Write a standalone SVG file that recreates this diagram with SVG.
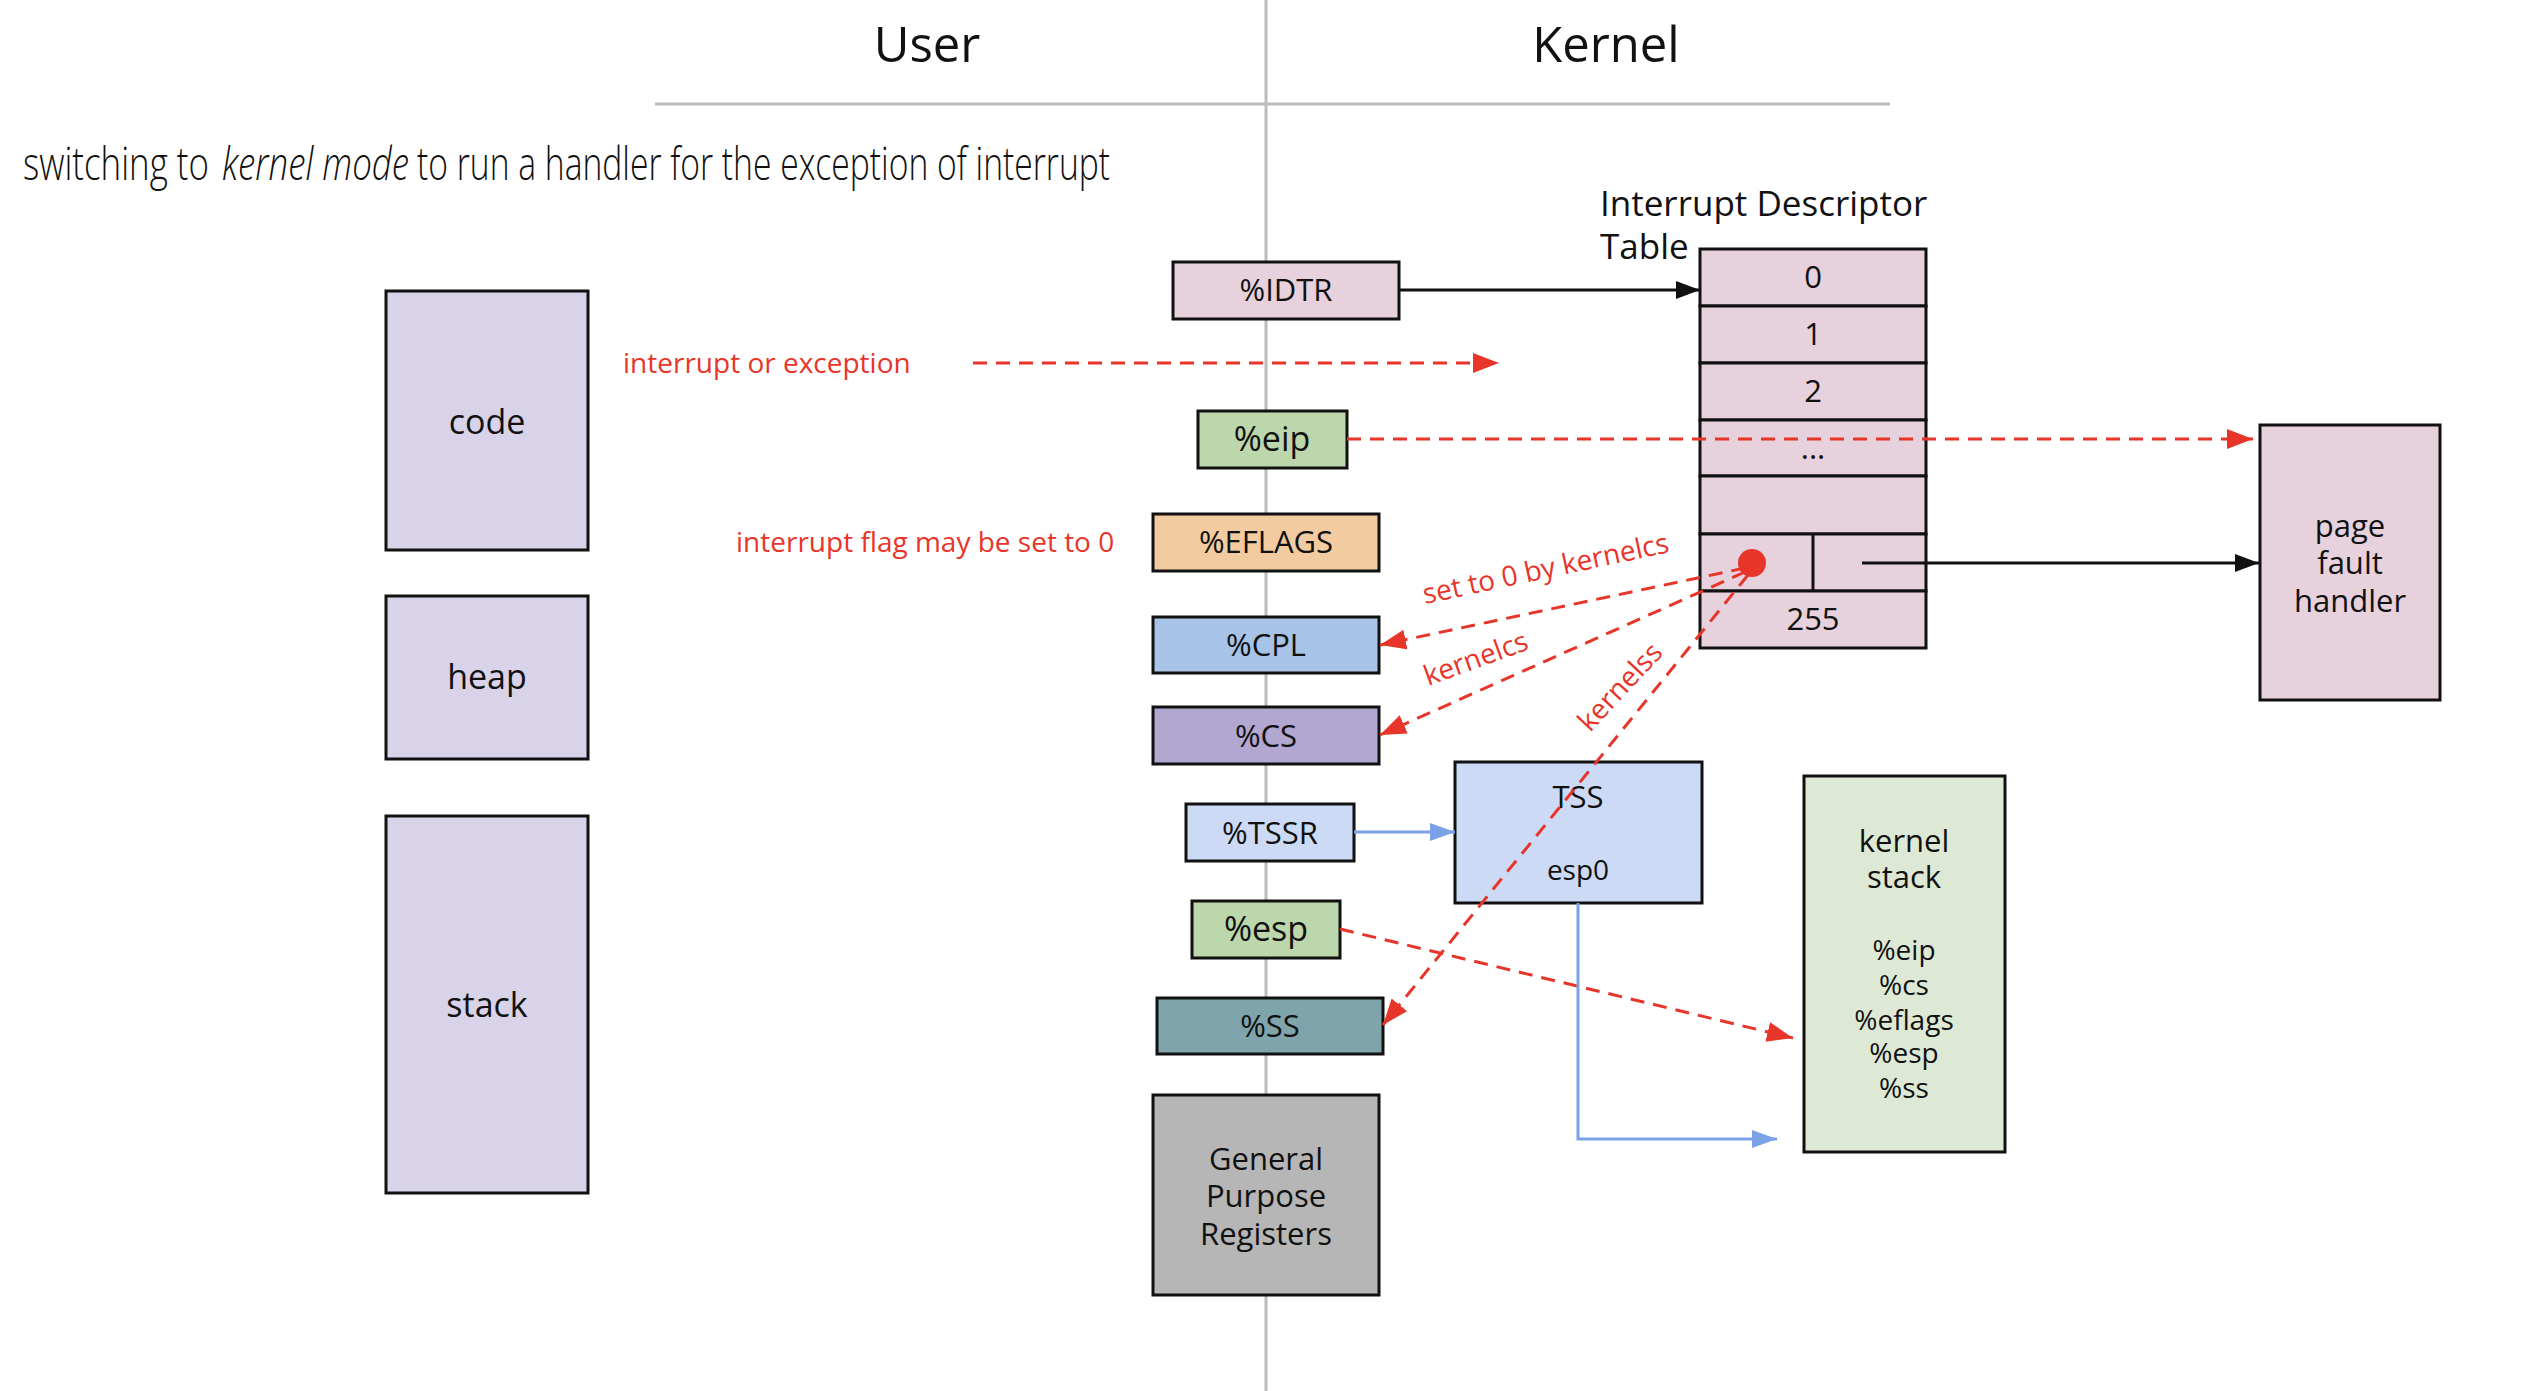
<svg xmlns="http://www.w3.org/2000/svg" width="2535" height="1391" viewBox="0 0 2535 1391">
<defs>
<style>
text{font-family:"Open Sans","Noto Sans","Liberation Sans",sans-serif;fill:#111;}
.box{stroke:#111;stroke-width:3;}
.lbl{font-size:31px;text-anchor:middle;}
.big{font-size:34px;text-anchor:middle;}
.sm{font-size:28px;text-anchor:middle;}
.red{fill:#e8352a;font-size:28px;}
.ttl{font-size:46px;font-weight:300;}
.guide{stroke:#bbbbbb;stroke-width:3;fill:none;}
.blk{stroke:#111;stroke-width:3;fill:none;}
.rd{stroke:#e8352a;stroke-width:3;fill:none;stroke-dasharray:14 9;}
.bl{stroke:#7ba2e6;stroke-width:3;fill:none;}
.lav{fill:#d8d3e8;}
.pink{fill:#e6d1dd;}
.grn{fill:#bcd7ab;}
</style>
<marker id="ab" markerUnits="userSpaceOnUse" markerWidth="24" markerHeight="18" refX="24" refY="9" orient="auto"><path d="M0,0 L24,9 L0,18 z" fill="#111"/></marker>
<marker id="ar" markerUnits="userSpaceOnUse" markerWidth="26" markerHeight="20" refX="26" refY="10" orient="auto"><path d="M0,0 L26,10 L0,20 z" fill="#e8352a"/></marker>
<marker id="abl" markerUnits="userSpaceOnUse" markerWidth="25" markerHeight="18" refX="25" refY="9" orient="auto"><path d="M0,0 L25,9 L0,18 z" fill="#7ba2e6"/></marker>
</defs>
<rect width="2535" height="1391" fill="#ffffff"/>

<g id="guides">
<line class="guide" x1="1266" y1="0" x2="1266" y2="1391"/>
<line class="guide" x1="655" y1="104" x2="1890" y2="104"/>
</g>

<g id="headers">
<text x="927" y="62" font-size="49" text-anchor="middle">User</text>
<text x="1606" y="62" font-size="49" text-anchor="middle">Kernel</text>
<text class="ttl" x="23" y="180" textLength="186" lengthAdjust="spacingAndGlyphs">switching to</text>
<text class="ttl" x="222" y="180" font-style="italic" textLength="187" lengthAdjust="spacingAndGlyphs">kernel mode</text>
<text class="ttl" x="417" y="180" textLength="693" lengthAdjust="spacingAndGlyphs">to run a handler for the exception of interrupt</text>
</g>

<g id="code"><rect class="box lav" x="386" y="291" width="202" height="259"/><text class="big" x="487" y="434">code</text></g>
<g id="heap"><rect class="box lav" x="386" y="596" width="202" height="163"/><text class="big" x="487" y="689">heap</text></g>
<g id="stack"><rect class="box lav" x="386" y="816" width="202" height="377"/><text class="big" x="487" y="1017">stack</text></g>

<g id="idtr"><rect class="box pink" x="1173" y="262" width="226" height="57"/><text class="lbl" x="1286" y="301">%IDTR</text></g>
<g id="eip"><rect class="box grn" x="1198" y="411" width="149" height="57"/><text class="big" x="1272" y="451">%eip</text></g>
<g id="eflags"><rect class="box" fill="#f3cba0" x="1153" y="514" width="226" height="57"/><text class="lbl" x="1266" y="553">%EFLAGS</text></g>
<g id="cpl"><rect class="box" fill="#a7c3e7" x="1153" y="617" width="226" height="56"/><text class="lbl" x="1266" y="656">%CPL</text></g>
<g id="cs"><rect class="box" fill="#b1a7d1" x="1153" y="707" width="226" height="57"/><text class="lbl" x="1266" y="747">%CS</text></g>
<g id="tssr"><rect class="box" fill="#ccdaf5" x="1186" y="804" width="168" height="57"/><text class="lbl" x="1270" y="844">%TSSR</text></g>
<g id="esp"><rect class="box grn" x="1192" y="901" width="148" height="57"/><text class="big" x="1266" y="941">%esp</text></g>
<g id="ss"><rect class="box" fill="#7fa4ac" x="1157" y="998" width="226" height="56"/><text class="lbl" x="1270" y="1037">%SS</text></g>
<g id="gpr"><rect class="box" fill="#b6b6b6" x="1153" y="1095" width="226" height="200"/>
<text class="lbl" x="1266" y="1170">General</text><text class="lbl" x="1266" y="1207">Purpose</text><text class="lbl" x="1266" y="1245">Registers</text></g>

<g id="idt">
<text x="1600" y="216" font-size="35">Interrupt Descriptor</text>
<text x="1600" y="259" font-size="35">Table</text>
<rect class="box pink" x="1700" y="249" width="226" height="57"/><text class="lbl" x="1813" y="288">0</text>
<rect class="box pink" x="1700" y="306" width="226" height="57"/><text class="lbl" x="1813" y="345">1</text>
<rect class="box pink" x="1700" y="363" width="226" height="57"/><text class="lbl" x="1813" y="402">2</text>
<rect class="box pink" x="1700" y="420" width="226" height="56"/><text class="lbl" x="1813" y="459">...</text>
<rect class="box pink" x="1700" y="476" width="226" height="58"/>
<rect class="box pink" x="1700" y="534" width="226" height="57"/>
<line class="blk" x1="1813" y1="534" x2="1813" y2="591"/>
<rect class="box pink" x="1700" y="591" width="226" height="57"/><text class="lbl" x="1813" y="630">255</text>
</g>

<g id="pagefault"><rect class="box pink" x="2260" y="425" width="180" height="275"/>
<text class="lbl" x="2350" y="537">page</text><text class="lbl" x="2350" y="574">fault</text><text class="lbl" x="2350" y="612">handler</text></g>

<g id="tss"><rect class="box" fill="#ccdaf5" x="1455" y="762" width="247" height="141"/>
<text class="lbl" x="1578" y="808">TSS</text><text class="sm" x="1578" y="880">esp0</text></g>

<g id="kstack"><rect class="box" fill="#dee9d5" x="1804" y="776" width="201" height="376"/>
<text class="lbl" x="1904" y="852">kernel</text><text class="lbl" x="1904" y="888">stack</text>
<text class="sm" x="1904" y="960">%eip</text><text class="sm" x="1904" y="995">%cs</text><text class="sm" x="1904" y="1030">%eflags</text><text class="sm" x="1904" y="1063">%esp</text><text class="sm" x="1904" y="1098">%ss</text></g>

<g id="connectors">
<line class="blk" x1="1399" y1="290" x2="1700" y2="290" marker-end="url(#ab)"/>
<line class="rd" x1="973" y1="363" x2="1499" y2="363" marker-end="url(#ar)"/>
<line class="rd" x1="1347" y1="439" x2="2253" y2="439" marker-end="url(#ar)"/>
<line class="blk" x1="1862" y1="563" x2="2259" y2="563" marker-end="url(#ab)"/>
<line class="rd" x1="1745" y1="568" x2="1380" y2="645" marker-end="url(#ar)"/>
<line class="rd" x1="1745" y1="572" x2="1380" y2="735" marker-end="url(#ar)"/>
<line class="rd" x1="1748" y1="575" x2="1383" y2="1025" marker-end="url(#ar)"/>
<line class="rd" x1="1340" y1="929" x2="1793" y2="1038" marker-end="url(#ar)"/>
<line class="bl" x1="1354" y1="832" x2="1455" y2="832" marker-end="url(#abl)"/>
<polyline class="bl" points="1578,903 1578,1139 1777,1139" marker-end="url(#abl)"/>
<circle cx="1752" cy="563" r="14" fill="#e8352a"/>
</g>

<g id="labels">
<text class="red" x="623" y="373">interrupt or exception</text>
<text class="red" x="736" y="552">interrupt flag may be set to 0</text>
<text class="red" x="1425" y="604" transform="rotate(-12 1425 604)">set to 0 by kernelcs</text>
<text class="red" x="1428" y="686" transform="rotate(-20 1428 686)">kernelcs</text>
<text class="red" x="1590" y="733" transform="rotate(-47 1590 733)">kernelss</text>
</g>
</svg>
